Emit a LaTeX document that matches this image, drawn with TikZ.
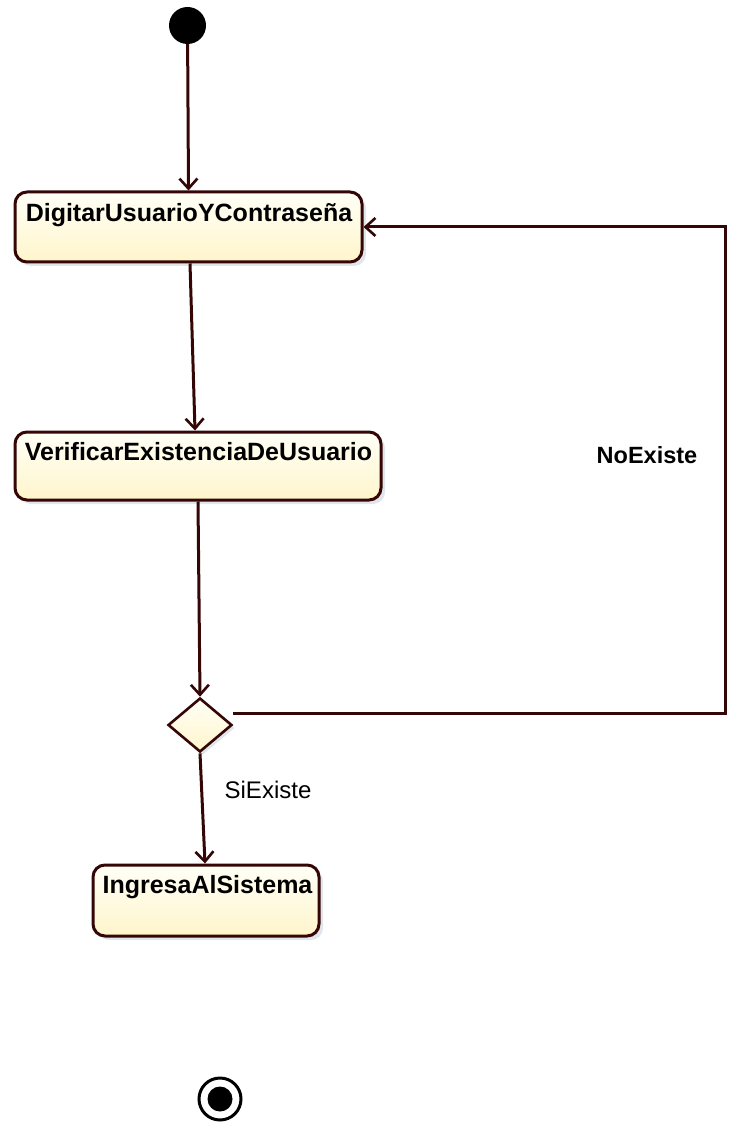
\documentclass[tikz,border=0pt]{standalone}
\usepackage{fontspec}
\setmainfont{Liberation Sans}
\usetikzlibrary{arrows.meta,shapes.geometric,calc,shadows}
\definecolor{edge}{HTML}{350606}
\definecolor{boxtop}{HTML}{FFFFF6}
\definecolor{boxbot}{HTML}{FFF5CC}
\definecolor{shade}{HTML}{CBD6DE}
\begin{document}
\begin{tikzpicture}[x=1pt,y=-1pt,
  action/.style={draw=edge, line width=3pt, rounded corners=12pt,
    top color=boxtop, bottom color=boxbot, inner sep=0pt,
    drop shadow={shadow xshift=4pt, shadow yshift=-4pt, fill=shade, opacity=0.6}},
  title/.style={font=\fontsize{25}{30}\selectfont\bfseries, inner sep=0pt},
  flow/.style={draw=edge, line width=3pt,
    -{Straight Barb[length=10pt,width=18pt,line width=2.6pt]}},
  guard/.style={font=\fontsize{24}{28}\selectfont, inner sep=0pt}]
\useasboundingbox (0,0) rectangle (731,1139);

% initial and final states
\node[circle, fill=black, minimum size=37pt, inner sep=0pt] (start) at (187.5,25.5) {};
\node[circle, draw=black, line width=3pt, minimum size=42pt, inner sep=0pt] (final) at (220,1099) {};
\node[circle, fill=black, minimum size=25pt, inner sep=0pt] (finaldot) at (final) {};

% actions
\node[action, minimum width=347pt, minimum height=70pt] (b1) at (188.5,227) {};
\node[title] (t1) at (189,215) {DigitarUsuarioYContraseña};

\node[action, minimum width=366pt, minimum height=68pt] (b2) at (198,466) {};
\node[title] (t2) at (198.5,452) {VerificarExistenciaDeUsuario};

\node[action, minimum width=226pt, minimum height=71pt] (b3) at (206,900.5) {};
\node[title] (t3) at (207.5,887) {IngresaAlSistema};

% decision
\node[diamond, draw=edge, line width=2.6pt, top color=boxtop, bottom color=boxbot,
  minimum width=64pt, minimum height=54pt, inner sep=0pt,
  drop shadow={shadow xshift=3pt, shadow yshift=-3pt, fill=shade, opacity=0.6}] (d) at (200,725) {};

% flows
\draw[flow] (start) -- (b1.north);
\draw[flow] ($(b1.south)+(1.5,0)$) -- ($(b2.north)+(-3,0)$);
\draw[flow] (b2.south) -- (d.north);
\draw[flow] (d.south) -- ($(b3.north)+(-1,0)$);

\coordinate (c1) at (725,713);
\coordinate (c2) at (725,227);
\draw[flow] ($(d.east)+(0,-12)$) -- (c1) -- (c2) -- (b1.east);

% guards
\node[guard, font=\fontsize{23.5}{28}\selectfont\bfseries] (no) at (647,455) {NoExiste};
\node[guard] (si) at (268,790) {SiExiste};
\end{tikzpicture}
\end{document}
